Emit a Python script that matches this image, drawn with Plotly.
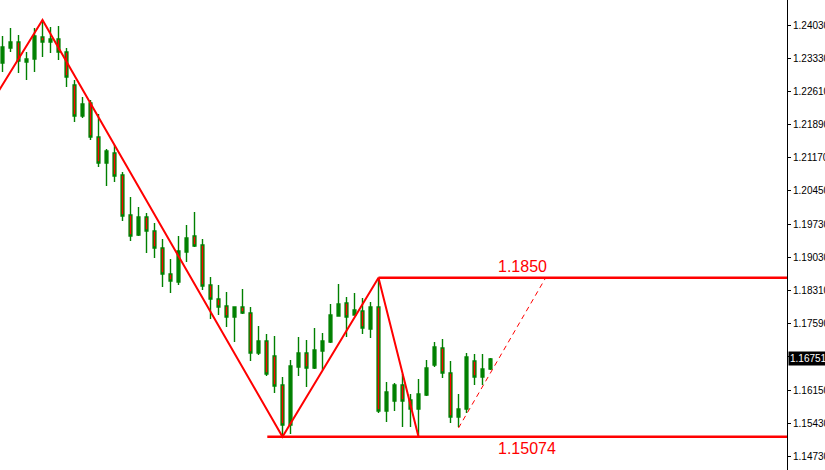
import plotly.graph_objects as go

# ---- data ----
bar_index = list(range(62))
open_ = [1.23125, 1.23448, 1.23577, 1.23146, 1.23211, 1.23685, 1.23577, 1.23642, 1.23362, 1.22651,
         1.21983, 1.22263, 1.21531, 1.20971, 1.21186, 1.20712, 1.19851, 1.19420, 1.19807, 1.19506,
         1.19140, 1.18580, 1.18407, 1.19053, 1.19398, 1.19204, 1.18343, 1.18041, 1.17890, 1.17653,
         1.17869, 1.17739, 1.16878, 1.17136, 1.16813, 1.16188, 1.15327, 1.16576, 1.16878, 1.16555,
         1.16921, 1.17115, 1.17675, 1.17955, 1.17696, 1.17782, 1.17395, 1.17869, 1.15628, 1.15844,
         1.16188, 1.15865, 1.15671, 1.15973, 1.16619, 1.16985, 1.16447, 1.15499, 1.15671, 1.16705,
         1.16361, 1.16533]
high_ = [1.23707, 1.23879, 1.23728, 1.23362, 1.23879, 1.24051, 1.23900, 1.23922, 1.23448, 1.22759,
         1.22392, 1.22328, 1.22026, 1.21272, 1.21358, 1.20777, 1.20238, 1.20023, 1.19894, 1.19678,
         1.19334, 1.18903, 1.19398, 1.19635, 1.19915, 1.19334, 1.18515, 1.18343, 1.18192, 1.17869,
         1.18256, 1.17869, 1.17459, 1.17287, 1.17244, 1.16361, 1.16727, 1.17222, 1.17158, 1.17416,
         1.17309, 1.17933, 1.18364, 1.18084, 1.18170, 1.18063, 1.17976, 1.18499, 1.16253, 1.16231,
         1.16425, 1.15995, 1.16318, 1.16727, 1.17115, 1.17179, 1.16705, 1.15995, 1.16878, 1.16856,
         1.16856, 1.16770]
low_ = [1.22931, 1.23362, 1.22909, 1.22759, 1.22931, 1.23254, 1.23340, 1.23190, 1.22608, 1.21854,
        1.21940, 1.21466, 1.20885, 1.20475, 1.20561, 1.19721, 1.19290, 1.19398, 1.19032, 1.18924,
        1.18299, 1.18170, 1.18343, 1.18838, 1.19161, 1.18235, 1.17610, 1.17696, 1.17438, 1.17115,
        1.17718, 1.16705, 1.16835, 1.16382, 1.16016, 1.15074, 1.15133, 1.16382, 1.16145, 1.16533,
        1.16512, 1.17093, 1.17675, 1.17222, 1.17696, 1.17287, 1.17201, 1.15585, 1.15391, 1.15628,
        1.15284, 1.15284, 1.15074, 1.15951, 1.16576, 1.16339, 1.15370, 1.15284, 1.15585, 1.16188,
        1.16188, 1.16512]
close_ = [1.23470, 1.23577, 1.23168, 1.23211, 1.23707, 1.23577, 1.23642, 1.23362, 1.22823, 1.21983,
          1.22242, 1.21531, 1.20971, 1.21229, 1.20691, 1.19829, 1.19398, 1.19807, 1.19506, 1.19140,
          1.18580, 1.18429, 1.19075, 1.19355, 1.19183, 1.18321, 1.18041, 1.17869, 1.17653, 1.17869,
          1.17739, 1.16878, 1.17136, 1.16425, 1.16167, 1.15327, 1.16598, 1.16878, 1.16555, 1.16942,
          1.17136, 1.17696, 1.17933, 1.17653, 1.17804, 1.17416, 1.17869, 1.15628, 1.16038, 1.16188,
          1.15844, 1.15671, 1.15995, 1.16555, 1.17007, 1.16447, 1.15499, 1.15671, 1.16792, 1.16361,
          1.16533, 1.16751]

zigzag_x = [-1, 5, 35, 47, 52]
zigzag_y = [1.22377, 1.24051, 1.15074, 1.18499, 1.15074]
proj_x = [57, 67.9]
proj_y = [1.15262, 1.18499]

level_high = 1.18499
level_low = 1.15074
level_high_text = "1.1850"
level_low_text = "1.15074"
last_price = 1.16751

tick_labels = ["1.24030", "1.23330", "1.22610", "1.21890", "1.21170", "1.20450", "1.19730",
               "1.19030", "1.18310", "1.17590", "1.16870", "1.16150", "1.15430", "1.14730"]
tick_positions = [1.23943, 1.23228, 1.22513, 1.21798, 1.21083, 1.20368, 1.19653,
                  1.18938, 1.18223, 1.17508, 1.16793, 1.16078, 1.15363, 1.14648]

RED = "#ff0000"
GREEN = "#008000"

fig = go.Figure()

fig.add_trace(go.Candlestick(
    x=bar_index, open=open_, high=high_, low=low_, close=close_,
    increasing=dict(line=dict(color=GREEN, width=1.4), fillcolor=GREEN),
    decreasing=dict(line=dict(color=GREEN, width=1.4), fillcolor=RED),
    whiskerwidth=0, hoverinfo="skip", showlegend=False,
))

fig.add_trace(go.Scatter(x=zigzag_x, y=zigzag_y, mode="lines",
                         line=dict(color=RED, width=2), hoverinfo="skip", showlegend=False))
fig.add_trace(go.Scatter(x=proj_x, y=proj_y, mode="lines",
                         line=dict(color=RED, width=1, dash="5px,4px"),
                         hoverinfo="skip", showlegend=False))
fig.add_trace(go.Scatter(x=[47, 110], y=[level_high, level_high], mode="lines",
                         line=dict(color=RED, width=2.5), hoverinfo="skip", showlegend=False))
fig.add_trace(go.Scatter(x=[33.1, 110], y=[level_low, level_low], mode="lines",
                         line=dict(color=RED, width=2.5), hoverinfo="skip", showlegend=False))

fig.add_annotation(x=65, y=level_high, text=level_high_text, showarrow=False,
                   yanchor="bottom", yshift=1,
                   font=dict(family="Liberation Sans, Arial", size=16, color=RED))
fig.add_annotation(x=65.6, y=level_low, text=level_low_text, showarrow=False,
                   yanchor="top", yshift=-1,
                   font=dict(family="Liberation Sans, Arial", size=16, color=RED))
fig.add_annotation(xref="paper", x=1, y=last_price, xanchor="left", xshift=1,
                   text=str(last_price), showarrow=False, bgcolor="black",
                   borderpad=1, font=dict(family="Liberation Sans, Arial", size=10, color="white"))

fig.update_layout(
    width=825, height=470,
    margin=dict(l=0, r=38, t=0, b=0, autoexpand=False),
    paper_bgcolor="white", plot_bgcolor="white",
    showlegend=False, hovermode=False, boxgap=0.5,
    xaxis=dict(range=[-0.3125, 98.0625], visible=False, rangeslider=dict(visible=False),
               showgrid=False, zeroline=False),
    yaxis=dict(range=[1.14357, 1.24482], side="right", showgrid=False, zeroline=False,
               showline=True, linecolor="black", linewidth=1,
               ticks="outside", ticklen=3, tickcolor="black",
               tickvals=tick_positions, ticktext=tick_labels,
               tickfont=dict(family="Liberation Sans, Arial", size=10, color="black")),
)

fig.write_html("out.html", config={"displayModeBar": False},
               post_script="document.body.style.margin='0px';document.body.style.overflow='hidden';")
